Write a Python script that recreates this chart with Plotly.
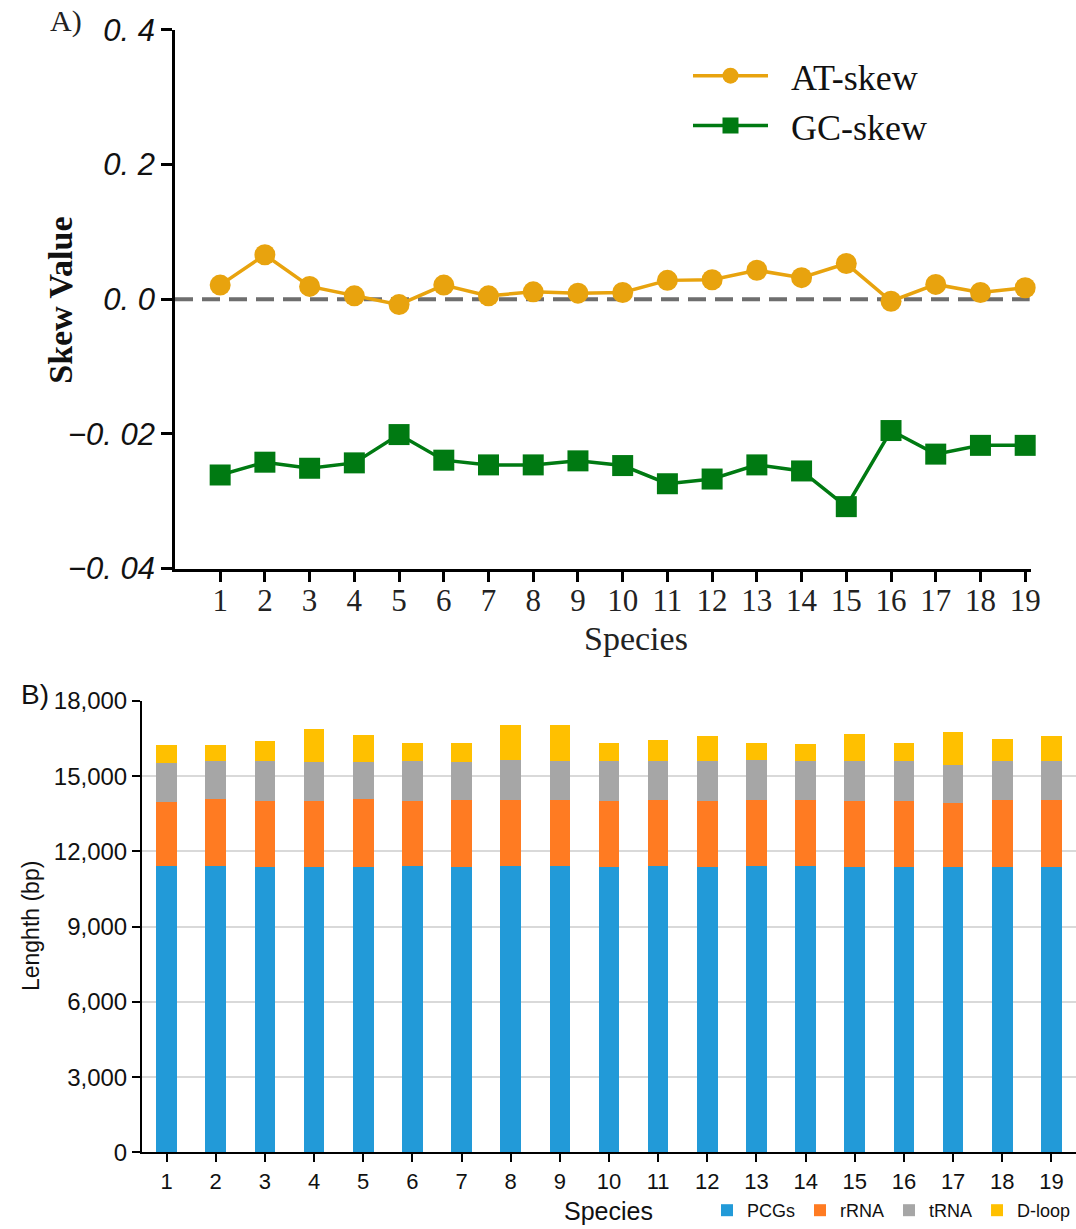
import plotly.graph_objects as go

# ---------------- data ----------------
species = list(range(1, 20))

at_skew = [0.021, 0.066, 0.019, 0.005, -0.008, 0.021, 0.005, 0.011, 0.009, 0.010,
           0.028, 0.029, 0.043, 0.032, 0.053, -0.003, 0.022, 0.010, 0.017]
gc_skew = [-0.0261, -0.0242, -0.0251, -0.0243, -0.0201, -0.0239, -0.0246, -0.0246, -0.0240, -0.0247,
           -0.0274, -0.0267, -0.0246, -0.0255, -0.0308, -0.0195, -0.0230, -0.0217, -0.0217]

pcgs = [11430, 11430, 11400, 11370, 11370, 11430, 11370, 11430, 11430, 11400,
        11430, 11370, 11430, 11430, 11370, 11370, 11400, 11400, 11400]
rrna = [2560, 2670, 2630, 2650, 2720, 2600, 2690, 2640, 2640, 2600,
        2640, 2630, 2640, 2640, 2630, 2630, 2530, 2670, 2670]
trna = [1550, 1490, 1560, 1560, 1490, 1560, 1520, 1560, 1520, 1590,
        1520, 1590, 1560, 1520, 1590, 1590, 1530, 1520, 1520]
dloop = [710, 640, 830, 1290, 1080, 730, 730, 1410, 1450, 730,
         870, 1000, 690, 690, 1080, 730, 1290, 910, 1000]

upper_ticks = [0.0, 0.2, 0.4]
upper_ticktext = ["0. 0", "0. 2", "0. 4"]
lower_ticks = [-0.04, -0.02]
lower_ticktext = ["\u22120. 04", "\u22120. 02"]
bar_ticks = [0, 3000, 6000, 9000, 12000, 15000, 18000]

# ---------------- figure ----------------
W, H = 1076, 1229
Y_CAL = 1.0056
def px_y(p):
    return 1 - (p * Y_CAL) / H
def px_x(p):
    return p / W

SERIF = "Liberation Serif"
SANS = "Liberation Sans"

fig = go.Figure()

fig.add_trace(go.Scatter(
    x=species, y=at_skew, name="\u00a0\u00a0AT-skew", mode="lines+markers",
    line=dict(color="#E8A30E", width=3.5),
    marker=dict(symbol="circle", size=21, color="#E8A30E"),
    xaxis="x", yaxis="y", cliponaxis=False, legend="legend"))
fig.add_trace(go.Scatter(
    x=species, y=gc_skew, name="\u00a0\u00a0GC-skew", mode="lines+markers",
    line=dict(color="#007A12", width=3.5),
    marker=dict(symbol="square", size=21, color="#007A12"),
    xaxis="x", yaxis="y3", cliponaxis=False, legend="legend"))

bar_series = [("PCGs", pcgs, "#229AD8"), ("rRNA", rrna, "#FF7B22"),
              ("tRNA", trna, "#A6A6A6"), ("D-loop", dloop, "#FFC000")]
for name, vals, col in bar_series:
    fig.add_trace(go.Bar(x=species, y=vals, name=name, marker=dict(color=col, line=dict(width=0)),
                         xaxis="x2", yaxis="y2", legend="legend2"))

top_x0, top_x1 = px_x(175), px_x(1031)
zero_px = 300.5
px_per_unit_top = (zero_px - 30) / 0.4
upper_min = -0.012
upper_bottom_px = zero_px - upper_min * px_per_unit_top

fig.update_layout(
    width=W, height=H, template="none",
    margin=dict(l=0, r=0, t=0, b=0),
    paper_bgcolor="white", plot_bgcolor="rgba(0,0,0,0)",
    barmode="stack", bargap=0.58,
    showlegend=True,
    xaxis=dict(domain=[top_x0, top_x1], range=[-0.01, 19.13], anchor="y3",
               tickmode="array", tickvals=species, ticktext=[str(s) for s in species],
               showline=True, linecolor="black", linewidth=2.5,
               ticks="outside", ticklen=11, tickwidth=2.5, tickcolor="black",
               ticklabelstandoff=-9,
               showgrid=False, zeroline=False,
               tickfont=dict(family=SERIF, size=31, color="#222")),
    yaxis=dict(domain=[px_y(upper_bottom_px), px_y(30)], range=[upper_min, 0.4], anchor="x",
               tickmode="array", tickvals=upper_ticks, ticktext=upper_ticktext,
               showline=True, linecolor="black", linewidth=2.5,
               ticks="outside", ticklen=11, tickwidth=2.5, tickcolor="black",
               showgrid=False, zeroline=False,
               tickfont=dict(family=SANS, size=31, color="#111", style="italic")),
    yaxis3=dict(domain=[px_y(571), px_y(zero_px)], range=[-0.04, 0], anchor="x",
                tickmode="array", tickvals=lower_ticks, ticktext=lower_ticktext,
                showline=True, linecolor="black", linewidth=2.5,
                ticks="outside", ticklen=11, tickwidth=2.5, tickcolor="black",
                showgrid=False, zeroline=False,
                tickfont=dict(family=SANS, size=31, color="#111", style="italic")),
    xaxis2=dict(domain=[px_x(142), 1.0], range=[0.5, 19.5], anchor="y2",
                tickmode="array", tickvals=species, ticktext=[str(s) for s in species],
                showline=True, linecolor="black", linewidth=2,
                ticks="outside", ticklen=8, tickwidth=2, tickcolor="black",
                showgrid=False, zeroline=False,
                tickfont=dict(family=SANS, size=22, color="#111")),
    yaxis2=dict(domain=[px_y(1157.3), px_y(704)], range=[0, 18000], anchor="x2",
                tickmode="array", tickvals=bar_ticks, tickformat=",",
                showline=True, linecolor="black", linewidth=2,
                ticks="outside", ticklen=8, tickwidth=2, tickcolor="black",
                showgrid=True, gridcolor="#D9D9D9", gridwidth=1.5, zeroline=False,
                tickfont=dict(family=SANS, size=24, color="#111")),
    legend=dict(x=px_x(688), y=px_y(46), xanchor="left", yanchor="top",
                bgcolor="rgba(0,0,0,0)", font=dict(family=SERIF, size=36, color="#111"),
                itemwidth=75, tracegroupgap=0),
    legend2=dict(orientation="h", x=1.0, y=px_y(1216), xanchor="right", yanchor="middle",
                 bgcolor="rgba(0,0,0,0)", font=dict(family=SANS, size=18, color="#111"),
                 itemwidth=30, traceorder="normal"),
)

# dashed zero reference line
fig.add_shape(type="line", xref="x", yref="y", x0=-0.01, x1=19.1, y0=0, y1=0,
              line=dict(color="#6E6E6E", width=4, dash="18px,9px"), layer="below")

annotations = [
    dict(text="A)", x=px_x(66), y=px_y(21), font=dict(family=SERIF, size=30, color="#222")),
    dict(text="<b>Skew Value</b>", x=px_x(61), y=px_y(302), textangle=-90,
         font=dict(family=SERIF, size=34, color="#111")),
    dict(text="Species", x=px_x(636), y=px_y(641), font=dict(family=SERIF, size=34, color="#222")),
    dict(text="B)", x=px_x(35), y=px_y(697), font=dict(family=SANS, size=28, color="#111")),
    dict(text="Lenghth (bp)", x=px_x(31), y=px_y(930), textangle=-90,
         font=dict(family=SANS, size=23, color="#111")),
    dict(text="Species", x=px_x(608), y=px_y(1216), font=dict(family=SANS, size=25, color="#111")),
]
for a in annotations:
    fig.add_annotation(xref="paper", yref="paper", showarrow=False,
                       xanchor="center", yanchor="middle", **a)

fig.write_html("out.html", config={"displayModeBar": False},
               post_script="document.body.style.margin='0';document.body.style.overflow='hidden';")
